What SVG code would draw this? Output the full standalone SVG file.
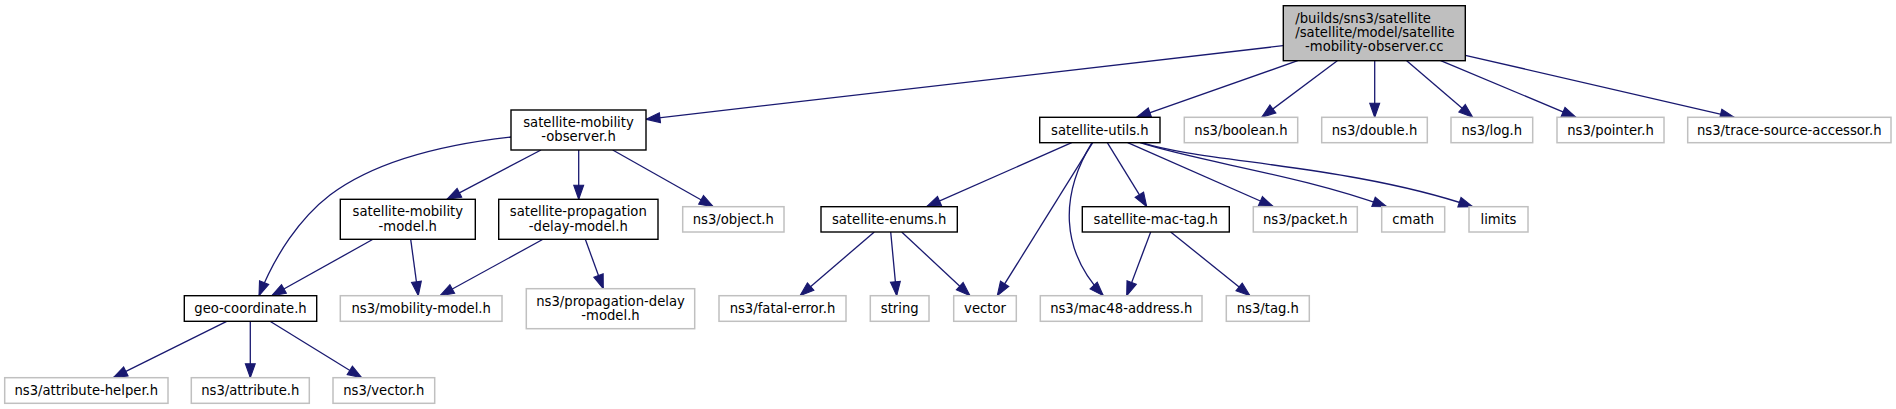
<svg xmlns="http://www.w3.org/2000/svg" width="1896" height="409" viewBox="0 0 1896 409">
<style>
text{font-family:"DejaVu Sans","Liberation Sans",sans-serif;font-size:13.2px;fill:#000;text-anchor:middle}
.root rect{fill:#bfbfbf;stroke:#000;stroke-width:1.4}
.doc rect{fill:#fff;stroke:#000;stroke-width:1.4}
.ext rect{fill:#fff;stroke:#c0c0c0;stroke-width:1.5}
#edges path{fill:none;stroke:#191970;stroke-width:1.3;marker-end:url(#arr)}
</style>
<defs>
<marker id="arr" markerUnits="userSpaceOnUse" markerWidth="14" markerHeight="11" viewBox="0 0 13 10" refX="13" refY="5" orient="auto" overflow="visible">
<path d="M0,0.4 L13,5 L0,9.6 z" fill="#191970" stroke="#191970" stroke-width="1"/>
</marker>
</defs>
<rect width="1896" height="409" fill="#fff"/>
<g id="edges">
<path d="M1283,45.7 L646,119.3"/>
<path d="M1297.7,60.7 L1136.7,117.3"/>
<path d="M1337.3,60.7 L1261.7,117.3"/>
<path d="M1374.7,60.7 L1374.7,117.3"/>
<path d="M1406.7,60.7 L1472.7,117.3"/>
<path d="M1440.7,60.7 L1576,117.3"/>
<path d="M1465.3,55.3 L1734.3,117.3"/>
<path d="M511,137 C430,146 370,165 330,195 C300,218 275,255 259,295.7"/>
<path d="M541,150 L447,199.3"/>
<path d="M578.7,150 L578.7,199.3"/>
<path d="M612.7,150 L713.3,206.7"/>
<path d="M373,239.3 L271.7,295.7"/>
<path d="M410.7,239.3 L418.3,295.7"/>
<path d="M543,239.3 L440,295.7"/>
<path d="M585.3,239.3 L603.3,288.7"/>
<path d="M226.7,321.3 L113.3,377.7"/>
<path d="M250.3,321.3 L250.3,377.7"/>
<path d="M270,321.3 L361.7,377.7"/>
<path d="M1071.7,142.7 L926.7,206.7"/>
<path d="M1092.7,142.7 L997.3,295.7"/>
<path d="M1092,142.7 C1060,195 1060,250 1103.3,295.7"/>
<path d="M1107.3,142.7 L1146.7,206.7"/>
<path d="M1127.7,142.7 L1273.3,206.7"/>
<path d="M1140,142.7 C1200,162 1300,175 1386.7,206.7"/>
<path d="M1142,142.7 C1200,162 1350,165 1472.7,206.7"/>
<path d="M874.3,232 L800,295.7"/>
<path d="M890.7,232 L896.7,295.7"/>
<path d="M901.7,232 L970,295.7"/>
<path d="M1150.7,232 L1126.7,295.7"/>
<path d="M1170.7,232 L1250,295.7"/>
</g>
<g id="n-root" class="root"><rect x="1283.3" y="5.7" width="182" height="55"/>
<text x="1295.3" y="22.5" style="text-anchor:start">/builds/sns3/satellite</text>
<text x="1295.3" y="37" style="text-anchor:start">/satellite/model/satellite</text>
<text x="1374.3" y="51.3">-mobility-observer.cc</text></g>
<g id="n-observer" class="doc"><rect x="511" y="110" width="135" height="40"/>
<text x="578.5" y="127.1">satellite-mobility</text><text x="578.5" y="141.4">-observer.h</text></g>
<g id="n-utils" class="doc"><rect x="1039.7" y="117.3" width="120.3" height="25.4"/><text x="1099.8" y="134.6">satellite-utils.h</text></g>
<g id="n-boolean" class="ext"><rect x="1184.3" y="117.3" width="113.4" height="25.4"/><text x="1241" y="134.6">ns3/boolean.h</text></g>
<g id="n-double" class="ext"><rect x="1321.7" y="117.3" width="105.6" height="25.4"/><text x="1374.5" y="134.6">ns3/double.h</text></g>
<g id="n-log" class="ext"><rect x="1451" y="117.3" width="81.7" height="25.4"/><text x="1491.8" y="134.6">ns3/log.h</text></g>
<g id="n-pointer" class="ext"><rect x="1557" y="117.3" width="107" height="25.4"/><text x="1610.5" y="134.6">ns3/pointer.h</text></g>
<g id="n-trace" class="ext"><rect x="1687.7" y="117.3" width="203.3" height="25.4"/><text x="1789.3" y="134.6">ns3/trace-source-accessor.h</text></g>
<g id="n-mobmodel" class="doc"><rect x="340.3" y="199.3" width="135" height="40"/>
<text x="407.8" y="216.4">satellite-mobility</text><text x="407.8" y="230.7">-model.h</text></g>
<g id="n-propdelay" class="doc"><rect x="498.7" y="199.3" width="159.3" height="40"/>
<text x="578.3" y="216.4">satellite-propagation</text><text x="578.3" y="230.7">-delay-model.h</text></g>
<g id="n-object" class="ext"><rect x="682.7" y="206.7" width="101.3" height="25.3"/><text x="733.3" y="224">ns3/object.h</text></g>
<g id="n-enums" class="doc"><rect x="821" y="206.7" width="136.3" height="25.3"/><text x="889.1" y="224">satellite-enums.h</text></g>
<g id="n-mactag" class="doc"><rect x="1082.3" y="206.7" width="147" height="25.3"/><text x="1155.8" y="224">satellite-mac-tag.h</text></g>
<g id="n-packet" class="ext"><rect x="1253.3" y="206.7" width="104" height="25.3"/><text x="1305.3" y="224">ns3/packet.h</text></g>
<g id="n-cmath" class="ext"><rect x="1381.7" y="206.7" width="63" height="25.3"/><text x="1413.2" y="224">cmath</text></g>
<g id="n-limits" class="ext"><rect x="1469" y="206.7" width="59" height="25.3"/><text x="1498.5" y="224">limits</text></g>
<g id="n-geo" class="doc"><rect x="184.3" y="295.7" width="132.4" height="25.6"/><text x="250.5" y="313.1">geo-coordinate.h</text></g>
<g id="n-ns3mob" class="ext"><rect x="340.3" y="295.7" width="161.7" height="25.6"/><text x="421.2" y="313.1">ns3/mobility-model.h</text></g>
<g id="n-ns3prop" class="ext"><rect x="526.3" y="288.7" width="168.4" height="40"/>
<text x="610.5" y="305.8">ns3/propagation-delay</text><text x="610.5" y="320.1">-model.h</text></g>
<g id="n-fatal" class="ext"><rect x="719" y="295.7" width="127" height="25.6"/><text x="782.5" y="313.1">ns3/fatal-error.h</text></g>
<g id="n-string" class="ext"><rect x="870.3" y="295.7" width="58.7" height="25.6"/><text x="899.7" y="313.1">string</text></g>
<g id="n-vector" class="ext"><rect x="953.7" y="295.7" width="62.6" height="25.6"/><text x="985" y="313.1">vector</text></g>
<g id="n-mac48" class="ext"><rect x="1040.3" y="295.7" width="161.7" height="25.6"/><text x="1121.2" y="313.1">ns3/mac48-address.h</text></g>
<g id="n-tag" class="ext"><rect x="1226.3" y="295.7" width="83" height="25.6"/><text x="1267.8" y="313.1">ns3/tag.h</text></g>
<g id="n-attrhelper" class="ext"><rect x="4.7" y="377.7" width="163.3" height="25.6"/><text x="86.3" y="395.1">ns3/attribute-helper.h</text></g>
<g id="n-attr" class="ext"><rect x="191.3" y="377.7" width="118" height="25.6"/><text x="250.3" y="395.1">ns3/attribute.h</text></g>
<g id="n-ns3vector" class="ext"><rect x="333" y="377.7" width="101.7" height="25.6"/><text x="383.8" y="395.1">ns3/vector.h</text></g>
</svg>
